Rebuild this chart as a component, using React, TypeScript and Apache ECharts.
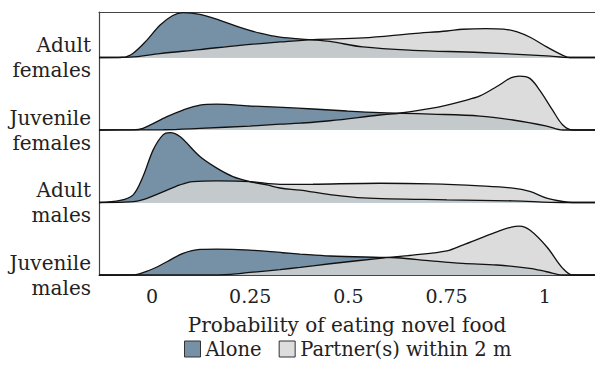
import React, { useEffect, useRef } from "react";
import * as echarts from "echarts";

// Row labels, bottom row first (row index = vertical offset of its baseline)
const groups = ["Juvenile\nmales", "Adult\nmales", "Juvenile\nfemales", "Adult\nfemales"];
const xTicks = [0, 0.25, 0.5, 0.75, 1];
const xLabels = ["0", "0.25", "0.5", "0.75", "1"];

// Density curves: [probability, density height in row units]
const adultFemalesAlone = [
  [-0.135, 0], [-0.074, 0.004], [-0.048, 0.06], [-0.013, 0.24], [0.02, 0.445], [0.053, 0.58],
  [0.079, 0.62], [0.122, 0.596], [0.173, 0.514], [0.224, 0.417], [0.275, 0.335], [0.326, 0.28],
  [0.4, 0.247], [0.453, 0.222], [0.537, 0.146], [0.664, 0.1], [0.835, 0.069], [1.005, 0.022],
  [1.064, 0], [1.128, 0],
];
const adultFemalesPartner = [
  [-0.135, 0], [-0.056, 0.005], [0.02, 0.055], [0.122, 0.11], [0.224, 0.169], [0.326, 0.215],
  [0.41, 0.248], [0.537, 0.27], [0.664, 0.33], [0.751, 0.366], [0.791, 0.39], [0.85, 0.4],
  [0.895, 0.392], [0.93, 0.355], [0.964, 0.276], [1.005, 0.146], [1.046, 0.03], [1.064, 0], [1.128, 0],
];
const juvenileFemalesAlone = [
  [-0.135, 0], [-0.048, 0.002], [-0.023, 0.023], [0.038, 0.184], [0.079, 0.275], [0.122, 0.344],
  [0.165, 0.358], [0.249, 0.331], [0.333, 0.312], [0.41, 0.29], [0.496, 0.262], [0.58, 0.239],
  [0.639, 0.23], [0.71, 0.22], [0.835, 0.193], [0.919, 0.138], [1.005, 0.055], [1.046, 0], [1.128, 0],
];
const juvenileFemalesPartner = [
  [-0.135, 0], [0.03, 0.004], [0.122, 0.023], [0.249, 0.055], [0.326, 0.08], [0.377, 0.095],
  [0.453, 0.128], [0.58, 0.207], [0.639, 0.238], [0.71, 0.298], [0.751, 0.344], [0.791, 0.399],
  [0.835, 0.47], [0.878, 0.6], [0.915, 0.722], [0.936, 0.744], [0.962, 0.712], [0.987, 0.551],
  [1.02, 0.275], [1.046, 0.069], [1.071, 0], [1.128, 0],
];
const adultMalesAlone = [
  [-0.135, 0], [-0.081, 0.028], [-0.048, 0.106], [-0.023, 0.358], [0.003, 0.726], [0.028, 0.933],
  [0.046, 0.964], [0.071, 0.909], [0.122, 0.634], [0.165, 0.474], [0.206, 0.358], [0.249, 0.289],
  [0.293, 0.243], [0.326, 0.2], [0.377, 0.17], [0.453, 0.11], [0.537, 0.065], [0.751, 0.037],
  [0.919, 0.023], [1.046, 0], [1.128, 0],
];
const adultMalesPartner = [
  [-0.135, 0], [-0.07, 0.004], [-0.03, 0.028], [0.02, 0.129], [0.071, 0.243], [0.104, 0.289],
  [0.165, 0.298], [0.249, 0.289], [0.326, 0.25], [0.41, 0.252], [0.58, 0.266], [0.71, 0.257],
  [0.835, 0.229], [0.919, 0.198], [0.962, 0.152], [1.005, 0.061], [1.046, 0.014], [1.071, 0], [1.128, 0],
];
const juvenileMalesAlone = [
  [-0.135, 0], [-0.048, 0.002], [-0.005, 0.069], [0.038, 0.183], [0.079, 0.299], [0.122, 0.354],
  [0.165, 0.358], [0.249, 0.344], [0.333, 0.307], [0.377, 0.289], [0.453, 0.262], [0.58, 0.243],
  [0.623, 0.238], [0.71, 0.196], [0.791, 0.161], [0.878, 0.138], [0.962, 0.092], [1.005, 0.045],
  [1.046, 0], [1.128, 0],
];
const juvenileMalesPartner = [
  [-0.135, 0], [0.122, 0.002], [0.2, 0.01], [0.249, 0.035], [0.326, 0.075], [0.377, 0.105],
  [0.453, 0.155], [0.58, 0.23], [0.664, 0.275], [0.751, 0.334], [0.791, 0.413], [0.835, 0.505],
  [0.878, 0.596], [0.915, 0.662], [0.936, 0.675], [0.962, 0.62], [1.005, 0.39], [1.046, 0.092],
  [1.071, 0], [1.128, 0],
];

// Top row first so that lower ridges are drawn over upper ones
const rows = [
  { offset: 3, alone: adultFemalesAlone, partner: adultFemalesPartner },
  { offset: 2, alone: juvenileFemalesAlone, partner: juvenileFemalesPartner },
  { offset: 1, alone: adultMalesAlone, partner: adultMalesPartner },
  { offset: 0, alone: juvenileMalesAlone, partner: juvenileMalesPartner },
];

const ALONE = "Alone";
const PARTNER = "Partner(s) within 2 m";
const aloneColor = "#7690a6";
const partnerFill = "rgba(212,213,212,0.83)";
const partnerSwatch = "#dcdddc";
const font = "DejaVu Serif";
const axisColor = "#444";

export default function App() {
  const ref = useRef<HTMLDivElement>(null);

  useEffect(() => {
    if (!ref.current) return;
    const chart = echarts.init(ref.current, undefined, { renderer: "svg" });

    const ridge = (name: string, pts: number[][], offset: number, fill: string) => ({
      name,
      type: "line",
      xAxisIndex: 0,
      yAxisIndex: 0,
      data: pts.map(([x, d]) => [x, offset + d]),
      showSymbol: false,
      symbol: "none",
      smooth: 0.35,
      clip: false,
      lineStyle: { color: "#111", width: 1.3 },
      itemStyle: { color: fill },
      areaStyle: { color: fill, opacity: 1, origin: offset },
      emphasis: { disabled: true },
      silent: true,
    });

    const series: any[] = [];
    rows.forEach((r) => {
      series.push(ridge(ALONE, r.alone, r.offset, aloneColor));
      series.push(ridge(PARTNER, r.partner, r.offset, partnerFill));
    });

    chart.setOption({
      animation: false,
      textStyle: { fontFamily: font },
      grid: { left: 99, right: 0, top: 12, bottom: 101, containLabel: false },
      xAxis: [
        {
          type: "value",
          min: -0.135,
          max: 1.128,
          name: "Probability of eating novel food",
          nameLocation: "middle",
          nameGap: 40,
          nameTextStyle: { fontFamily: font, fontSize: 20, color: "#222" },
          axisLine: { show: true, onZero: false, lineStyle: { color: axisColor, width: 1.2 } },
          axisTick: { show: false },
          splitLine: { show: false },
          axisLabel: {
            customValues: xTicks,
            formatter: (v: number) => xLabels[xTicks.indexOf(v)] ?? "",
            fontFamily: font,
            fontSize: 19,
            color: "#222",
            margin: 11,
          },
        },
        {
          type: "value",
          position: "top",
          min: -0.135,
          max: 1.128,
          axisLine: { show: true, onZero: false, lineStyle: { color: axisColor, width: 1.2 } },
          axisTick: { show: false },
          axisLabel: { show: false },
          splitLine: { show: false },
        },
      ],
      yAxis: {
        type: "value",
        min: 0,
        max: 3.628,
        interval: 1,
        axisLine: { show: true, onZero: false, lineStyle: { color: axisColor, width: 1.2 } },
        axisTick: { show: false },
        splitLine: { show: false },
        axisLabel: {
          formatter: (v: number) => (Number.isInteger(v) ? groups[v] ?? "" : ""),
          fontFamily: font,
          fontSize: 20,
          lineHeight: 25,
          color: "#222",
          margin: 8,
          showMaxLabel: false,
        },
      },
      legend: {
        left: 184,
        top: 339,
        padding: 0,
        orient: "horizontal",
        selectedMode: false,
        itemWidth: 16,
        itemHeight: 16,
        itemGap: 17,
        icon: "rect",
        textStyle: { fontFamily: font, fontSize: 19.5, color: "#222" },
        data: [
          { name: ALONE, icon: "rect", itemStyle: { color: aloneColor, borderColor: "#333", borderWidth: 1 } },
          { name: PARTNER, icon: "rect", itemStyle: { color: partnerSwatch, borderColor: "#333", borderWidth: 1 } },
        ],
      },
      series,
    });

    return () => chart.dispose();
  }, []);

  return (
    <div
      ref={ref}
      style={{ position: "absolute", left: 0, top: 0, width: 595, height: 376, background: "#fff" }}
    />
  );
}
